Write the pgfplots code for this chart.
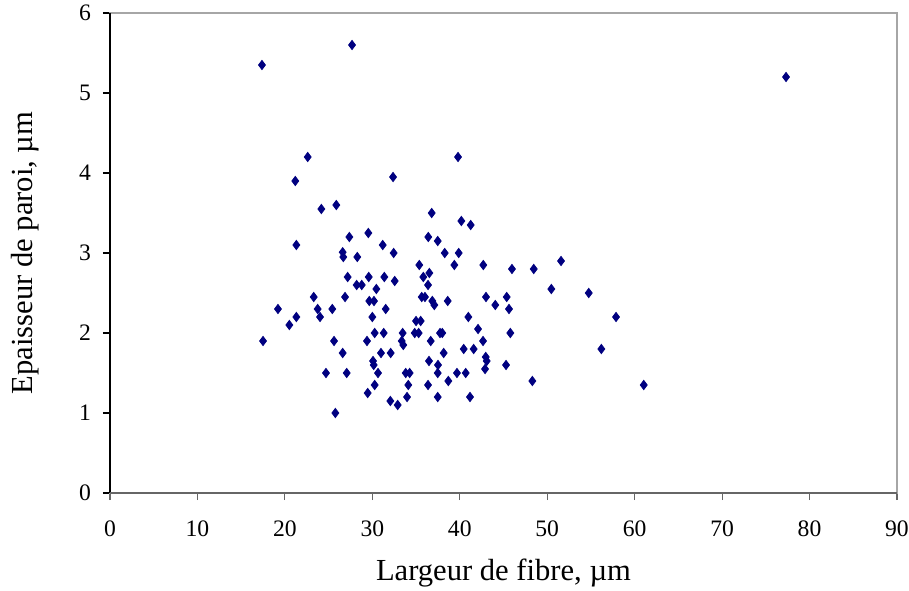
\documentclass[border=0pt]{standalone}
\usepackage{fontspec}
\setmainfont{Liberation Serif}
\usepackage{pgfplots}
\pgfplotsset{compat=1.18}
\definecolor{navyd}{RGB}{0,0,128}
\begin{document}
\begin{tikzpicture}
\begin{axis}[
  at={(0,0)}, anchor=south west,
  scale only axis,
  width=393.5pt, height=240pt,
  xmin=0, xmax=90, ymin=0, ymax=6,
  xtick={0,10,...,90}, ytick={0,1,...,6},
  axis line style={gray!70, line width=0.8pt},
  tick style={line width=0.6pt},
  x tick style={gray!80!black},
  y tick style={black},
  tick align=outside, major tick length=3.5pt,
  xtick pos=bottom, ytick pos=left,
  /pgf/number format/assume math mode=true,
  ticklabel style={font=\fontsize{11.8}{14}\selectfont},
  xticklabel style={yshift=-7pt},
  yticklabel style={xshift=-2.5pt},
  xlabel={Largeur de fibre, µm},
  ylabel={Epaisseur de paroi, µm},
  label style={font=\fontsize{15.3}{18}\selectfont},
  xlabel style={at={(axis description cs:0.5,0)}, anchor=center, yshift=-40pt},
  ylabel style={at={(axis description cs:0,0.5)}, anchor=center, yshift=42.5pt},
  clip=false,
]
\addplot[only marks, mark=diamond*, mark size=2.3pt, color=navyd, mark options={fill=navyd}] coordinates {
(17.38,5.35) (27.68,5.60) (77.31,5.20) (17.50,1.90) (22.61,4.20) (21.19,3.90)
(21.31,3.10) (24.17,3.55) (25.88,3.60) (32.37,3.95) (39.80,4.20) (19.21,2.30)
(21.31,2.20) (20.51,2.10) (23.30,2.45) (23.75,2.30) (24.02,2.20) (25.42,2.30)
(25.62,1.90) (24.70,1.50) (25.77,1.00) (26.61,1.75) (27.07,1.50) (27.37,3.20)
(26.61,3.01) (26.68,2.95) (28.28,2.95) (27.18,2.70) (26.88,2.45) (28.21,2.60)
(28.79,2.60) (29.54,3.25) (31.19,3.10) (32.44,3.00) (29.59,2.70) (31.37,2.70)
(32.56,2.65) (29.65,2.40) (30.19,2.40) (30.46,2.55) (30.00,2.20) (31.53,2.30)
(30.27,2.00) (31.30,2.00) (29.39,1.90) (30.08,1.65) (30.16,1.60) (30.99,1.75)
(32.10,1.75) (30.65,1.50) (30.27,1.35) (29.47,1.25) (32.06,1.15) (32.90,1.10)
(34.11,1.35) (33.97,1.20) (33.82,1.50) (34.27,1.50) (33.36,1.90) (33.54,1.85)
(33.47,2.00) (34.85,2.00) (35.30,2.00) (35.00,2.15) (35.53,2.15) (35.37,2.85)
(35.83,2.70) (36.52,2.75) (36.37,2.60) (35.65,2.45) (36.02,2.45) (36.86,2.40)
(37.09,2.35) (36.40,3.20) (37.48,3.15) (36.79,3.50) (38.28,3.00) (39.38,2.85)
(39.88,3.00) (40.18,3.40) (41.25,3.35) (38.62,2.40) (36.68,1.90) (37.74,2.00)
(38.00,2.00) (36.48,1.65) (37.51,1.60) (37.48,1.50) (38.16,1.75) (36.37,1.35)
(37.48,1.20) (38.69,1.40) (39.68,1.50) (40.68,1.50) (40.45,1.80) (41.59,1.80)
(41.17,1.20) (40.98,2.20) (42.09,2.05) (42.66,1.90) (42.97,1.70) (43.08,1.65)
(42.89,1.55) (42.69,2.85) (43.00,2.45) (44.06,2.35) (45.37,2.45) (45.63,2.30)
(45.78,2.00) (45.29,1.60) (45.97,2.80) (48.30,1.40) (48.46,2.80) (50.47,2.55)
(51.58,2.90) (54.75,2.50) (57.87,2.20) (56.19,1.80) (61.04,1.35)
};
\draw[black, line width=0.8pt] (rel axis cs:0,0) -- (rel axis cs:0,1);
\draw[gray!80!black, line width=0.9pt] (rel axis cs:0,0) -- (rel axis cs:1,0);
\end{axis}
\pgfresetboundingbox
\path[use as bounding box] (-55pt,-48.5pt) rectangle (399.5pt,246.5pt);
\end{tikzpicture}
\end{document}
